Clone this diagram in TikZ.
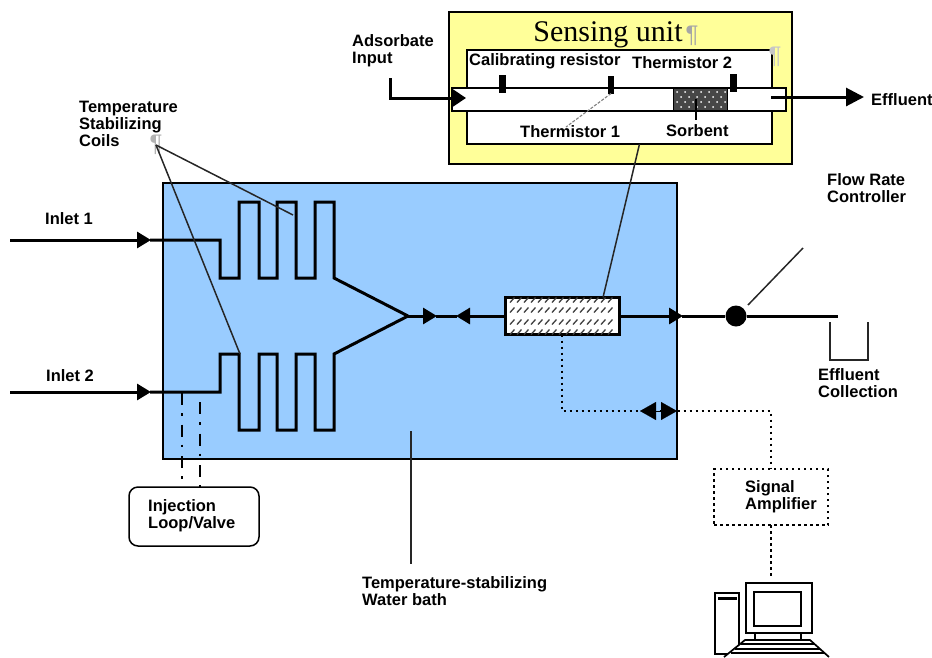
\documentclass[tikz,border=0pt]{standalone}
\usepackage{fontspec}
\setmainfont{Liberation Sans}
\newfontfamily\serifunit{Liberation Serif}
\usetikzlibrary{arrows.meta}
\definecolor{bathblue}{HTML}{99CCFF}
\definecolor{unityellow}{HTML}{FFFF99}
\tikzset{
  lbl/.style={anchor=west,align=left,inner sep=0pt,font=\fontsize{16.5}{17}\selectfont\bfseries},
  pilcrow/.style={inner sep=0pt,text=gray!70,font=\fontsize{24}{24}\selectfont},
  flow/.style={line width=3pt},
  flowtip/.style={flow,-{Triangle[length=14pt,width=16pt]},shorten >=-1pt},
  leader/.style={line width=1.5pt,black!85},
  signal/.style={line width=2.7pt,dash pattern=on 2.5pt off 3.5pt},
  signaltip/.style={line width=.1pt,-{Triangle[length=16pt,width=18pt]}},
  inject/.style={line width=2.6pt,dash pattern=on 12pt off 8pt on 2.5pt off 9pt},
  block/.style={draw,inner sep=0pt,outer sep=0pt},
  pin/.style={fill=black,inner sep=0pt,outer sep=0pt,minimum width=7pt,minimum height=18pt}
}
\begin{document}
\begin{tikzpicture}[x=1pt,y=-1pt]
  \useasboundingbox (0,0) rectangle (932,657);

  % sensing unit
  \node[block,line width=1.5pt,fill=unityellow,minimum width=343pt,minimum height=152pt] (unit) at (620.5,88) {};
  \node[block,line width=1.7pt,fill=white,minimum width=305pt,minimum height=94pt] (unitbox) at (619.5,97) {};
  \node[block,line width=1.7pt,fill=white,minimum width=334pt,minimum height=23pt] (tube) at (619,99.5) {};
  \node[block,line width=.8pt,fill=black!72,minimum width=54pt,minimum height=22pt] (sorbent) at (700,99) {};
  \foreach \py in {92,102}
    \foreach \px in {677,685,...,725}
      \fill[white] (\px,\py) circle (1pt);
  \foreach \py in {97,107}
    \foreach \px in {681,689,...,721}
      \fill[white] (\px,\py) circle (1pt);
  \node[pin] (calib) at (502,84) {};
  \node[pin,minimum width=6pt] (thermA) at (611,84.5) {};
  \node[pin] (thermB) at (733,82.5) {};

  \node[font=\serifunit\fontsize{30}{30}\selectfont,inner sep=0pt] (unitlbl) at (608,35) {Sensing unit};
  \node[pilcrow] (pilA) at (692,36) {¶};
  \node[pilcrow,text=gray!45] (pilB) at (775,57) {¶};
  \node[lbl] (caliblbl) at (469,61) {Calibrating resistor};
  \node[lbl] (thermBlbl) at (632,63) {Thermistor 2};
  \node[lbl] (thermAlbl) at (520,132) {Thermistor 1};
  \node[lbl] (sorbentlbl) at (666,131) {Sorbent};
  \node[lbl] (adsorbate) at (352,50.5) {Adsorbate\\Input};
  \node[lbl] (effluent) at (871,100) {Effluent};

  \coordinate (adsA) at (390,78);
  \coordinate (adsB) at (390,98);
  \coordinate (adsTip) at (466,98);
  \coordinate (effA) at (771,97);
  \coordinate (effTip) at (864,97);
  \coordinate (thermAend) at (566,127);
  \coordinate (sorbentEnd) at (696,120);
  \draw[flow,-{Triangle[length=14pt,width=18pt]}] (adsA) -- (adsB) -- (adsTip);
  \draw[flow,-{Triangle[length=18pt,width=18pt]}] (effA) -- (effTip);
  \draw[line width=1.1pt,gray,dash pattern=on 3pt off 1.5pt] (thermA.south) -- (thermAend);
  \draw[line width=1.4pt] (sorbent.center -| sorbentEnd) -- (sorbentEnd);

  % water bath
  \node[block,line width=1.5pt,fill=bathblue,minimum width=514pt,minimum height=276pt] (bath) at (420,321) {};
  \node[lbl] (coillbl) at (79,124) {Temperature\\Stabilizing\\Coils};
  \node[pilcrow,text=gray!60] (pilC) at (156,145) {¶};
  \node[lbl] (inletAlbl) at (45,219) {Inlet 1};
  \node[lbl] (inletBlbl) at (46,376) {Inlet 2};

  \coordinate (inletA) at (10,240);
  \coordinate (tipA) at (150,240);
  \coordinate (inletB) at (10,392);
  \coordinate (tipB) at (150,392);
  \coordinate (merge) at (408,316);
  \coordinate (tipC) at (436,316);
  \coordinate (tipD) at (457,316);

  \draw[flowtip] (inletA) -- (tipA);
  \draw[flowtip] (inletB) -- (tipB);
  \draw[flow,line join=miter] (tipA) -- (220,240) -- (220,278)
    -- (239,278) -- (239,202) -- (259,202) -- (259,278) -- (277,278) -- (277,202)
    -- (296,202) -- (296,278) -- (315,278) -- (315,202) -- (334,202) -- (334,278) -- (merge);
  \draw[flow,line join=miter] (tipB) -- (220,392) -- (220,354)
    -- (239,354) -- (239,430) -- (259,430) -- (259,354) -- (277,354) -- (277,430)
    -- (296,430) -- (296,354) -- (315,354) -- (315,430) -- (334,430) -- (334,354) -- (merge);

  % column
  \node[block,line width=3pt,fill=white,minimum width=114pt,minimum height=37pt] (column) at (562,316) {};
  \foreach \ry in {300,310,322,332}
    \foreach \rx in {510,517,...,610}
      \draw[line width=1.3pt,black!75] (\rx,\ry+2.5) -- (\rx+4.5,\ry-2.5);

  \coordinate (tipE) at (682,316);
  \draw[flowtip] (merge) -- (tipC);
  \draw[flow] (tipC) -- (tipD);
  \draw[flowtip] (column.west) -- (tipD);
  \draw[flowtip] (column.east) -- (tipE);
  \node[fill=black,circle,inner sep=0pt,minimum size=21pt] (valve) at (736,316) {};
  \coordinate (outlet) at (838,316);
  \draw[flow] (tipE) -- (valve) -- (outlet);

  \node[lbl] (flowlbl) at (827,188.5) {Flow Rate\\Controller};
  \coordinate (flowA) at (748,305);
  \coordinate (flowB) at (803,248);
  \draw[leader] (flowA) -- (flowB);

  \coordinate (cupA) at (830,322);
  \coordinate (cupB) at (830,360);
  \coordinate (cupC) at (868,360);
  \coordinate (cupD) at (868,322);
  \draw[line width=1.6pt,black!85] (cupA) -- (cupB) -- (cupC) -- (cupD);
  \node[lbl] (cuplbl) at (818,383.5) {Effluent\\Collection};

  % leaders
  \coordinate (coilA) at (293,215);
  \coordinate (coilB) at (240,354);
  \draw[leader] (pilC.center) -- (coilA);
  \draw[leader] (pilC.center) -- (coilB);
  \draw[leader] ([xshift=20pt]unitbox.south) -- ([xshift=41pt]column.north);

  \coordinate (bathA) at (411,431);
  \coordinate (bathB) at (411,564);
  \draw[leader] (bathA) -- (bathB);
  \node[lbl] (bathlbl) at (362,591.5) {Temperature-stabilizing\\Water bath};

  % injection
  \node[block,line width=1.5pt,rounded corners=9pt,fill=white,minimum width=130pt,minimum height=59pt] (loop) at (194,516.5) {};
  \node[lbl] (looplbl) at (148,515.5) {Injection\\Loop/Valve};
  \coordinate (injA) at (182,393);
  \coordinate (injB) at (200,402);
  \draw[inject] (injA) -- (loop.north -| injA);
  \draw[inject] (injB) -- (loop.north -| injB);

  % signal
  \node[block,signal,minimum width=114pt,minimum height=56pt] (amp) at (771,497) {};
  \node[lbl] (amplbl) at (745,496.5) {Signal\\Amplifier};
  \coordinate (sigA) at (562,411);
  \coordinate (sigMid) at (658.5,411);
  \coordinate (sigTipA) at (640,411);
  \coordinate (sigTipB) at (677,411);
  \coordinate (sigB) at (771,411);
  \coordinate (pcTop) at (771,578);
  \draw[signal] (column.south -| sigA) -- (sigA) -- (sigB) -- (amp.north -| sigB);
  \draw[signaltip] (sigMid) -- (sigTipA);
  \draw[signaltip] (sigMid) -- (sigTipB);
  \draw[signal] (amp.south) -- (pcTop);

  % computer
  \draw[line width=1.7pt] (715,593) rectangle (739,654);
  \draw[line width=2.2pt] (718,598.5) -- (737,598.5);
  \draw[line width=1.7pt,fill=white] (746,583) rectangle (812,633);
  \draw[line width=1.7pt] (754,592) rectangle (801,626);
  \draw[line width=1.7pt] (755,633) -- (755,640) (801,633) -- (801,640);
  \draw[line width=1.7pt,fill=white] (724,657) -- (745,640) -- (810,640) -- (829,657);
  \draw[line width=1.7pt] (741,644) -- (815,644) (735,649) -- (820,649);
  \draw[line width=2.8pt] (731,653) -- (825,653);
\end{tikzpicture}
\end{document}
